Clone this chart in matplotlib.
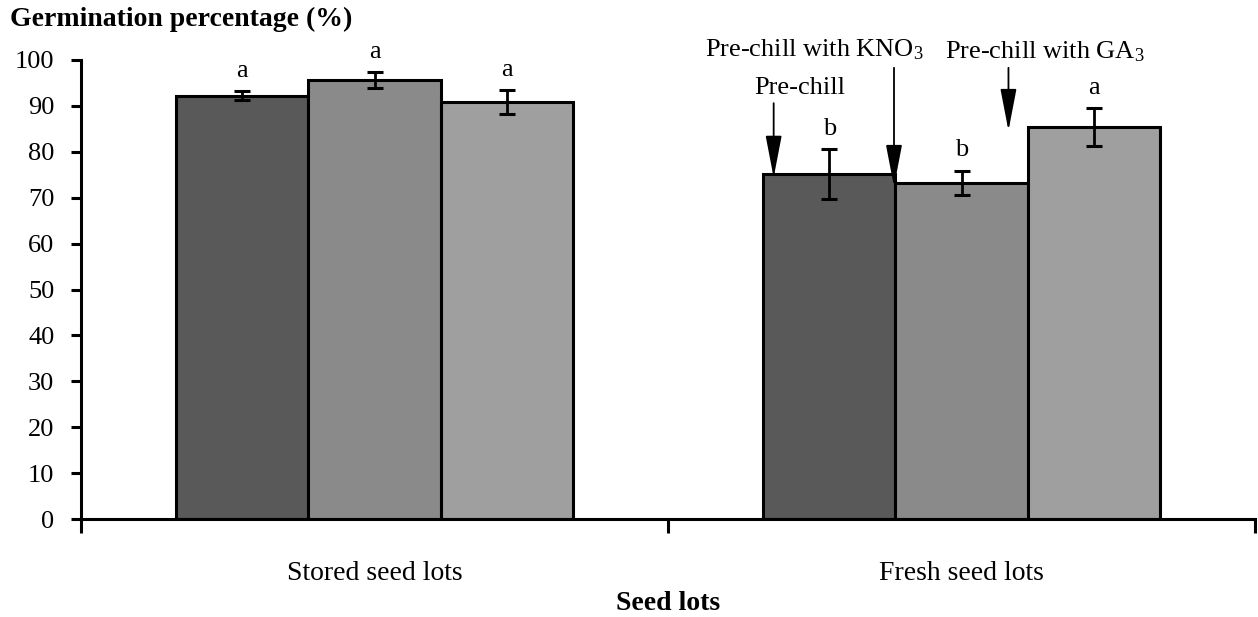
import matplotlib
matplotlib.use("Agg")
import matplotlib.pyplot as plt
import numpy as np

plt.rcParams['font.family'] = ['Liberation Serif', 'DejaVu Serif']
plt.rcParams['mathtext.fontset'] = 'custom'
plt.rcParams['mathtext.rm'] = 'Liberation Serif'
plt.rcParams['mathtext.default'] = 'rm'

# data
seed_lots   = ['Stored seed lots', 'Fresh seed lots']
treatments  = ['Pre-chill', 'Pre-chill with KNO$_3$', 'Pre-chill with GA$_3$']
germination = [[92.2, 95.6, 90.8],    # stored
               [75.2, 73.2, 85.4]]    # fresh
errors      = [[1.0, 1.8, 2.6],
               [5.4, 2.7, 4.1]]
letters     = [['a', 'a', 'a'],
               ['b', 'b', 'a']]

colors = ['#595959', '#8a8a8a', '#9f9f9f']
bar_w = 0.225

fig = plt.figure(figsize=(12.58, 6.17), dpi=100)
ax = fig.add_axes([81/1258, 1 - 519/617, 1174/1258, (519 - 60)/617])

x = np.arange(len(seed_lots))
germination = np.array(germination)
errors = np.array(errors)
for j in range(len(treatments)):
    xs = x + (j - 1) * bar_w
    ax.bar(xs, germination[:, j], bar_w, color=colors[j], edgecolor='black',
           linewidth=2.2, zorder=2)
    ax.errorbar(xs, germination[:, j], yerr=errors[:, j], fmt='none',
                ecolor='black', elinewidth=2, capsize=6, capthick=2.2, zorder=3)
    for i in range(len(seed_lots)):
        ax.text(xs[i], germination[i, j] + errors[i, j] + 4.4, letters[i][j],
                ha='center', va='center', fontsize=19)

# treatment labels with arrows above the fresh seed lots
ann = [(treatments[0], 0.725, 93.9, 0.68, 90.6, germination[1, 0]),
       (treatments[1], 0.75, 102.2, 0.885, 98.3, germination[1, 1]),
       (treatments[2], 1.142, 101.7, 1.08, 98.3, germination[1, 2])]
for label, tx, ty, axx, ay0, ay1 in ann:
    ax.text(tx, ty, label, ha='center', va='center', fontsize=19, clip_on=False)
    ax.annotate('', xy=(axx, ay1 - 0.8), xytext=(axx, ay0), annotation_clip=False,
                arrowprops=dict(arrowstyle='-|>,head_length=1.3,head_width=0.25',
                                color='black', lw=1.3, mutation_scale=20,
                                shrinkA=0, shrinkB=0))

ax.set_xlim(-0.5, 1.5)
ax.set_ylim(0, 100)
ax.set_yticks(np.arange(0, 101, 10))
ax.tick_params(axis='y', length=7.2, width=2.2, labelsize=19, pad=12)

ax.set_xticks(x)
ax.set_xticklabels(seed_lots, fontsize=20)
ax.tick_params(axis='x', which='major', length=0, pad=30)
ax.set_xticks([-0.5, 0.5, 1.5], minor=True)
ax.tick_params(axis='x', which='minor', length=10, width=2.2)

for s in ['top', 'right']:
    ax.spines[s].set_visible(False)
for s in ['left', 'bottom']:
    ax.spines[s].set_linewidth(2.2)

fig.text(10/1258, 1 - 19/617, 'Germination percentage (%)', fontsize=20,
         fontweight='bold', ha='left', va='center')
fig.text(668/1258, 1 - 603/617, 'Seed lots', fontsize=20, fontweight='bold',
         ha='center', va='center')

fig.savefig('out.png', dpi=100)
